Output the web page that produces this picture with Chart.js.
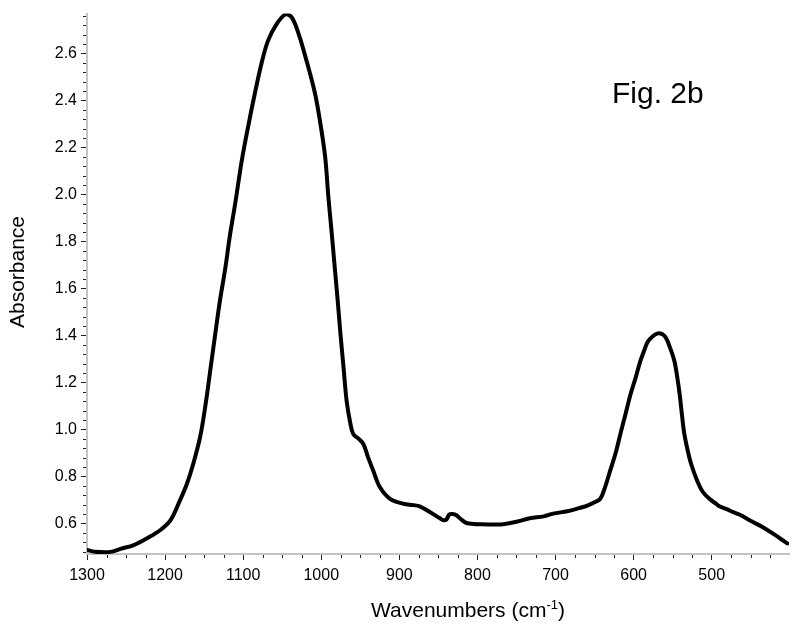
<!DOCTYPE html>
<html><head><meta charset="utf-8">
<script src="https://cdn.jsdelivr.net/npm/chart.js@4/dist/chart.umd.min.js"></script>
<style>html,body{margin:0;padding:0;background:#fff}#wrap{width:800px;height:627px;position:relative}</style>
</head><body><div id="wrap"><canvas id="c" width="800" height="627"></canvas></div>
<script>
const wavenumbers = [1300,1290,1270,1257,1240,1223,1206,1193,1181,1172,1164,1155,1148,1142,1136,1130,1123,1117,1110,1102,1093,1085,1076,1068,1057,1046,1038,1029,1019,1008,1002,995,991,987,983,979,975.5,971.5,967.5,963,959,952,946,940,933.5,925,912,895,882,874,861,848,844,840,836,832,827,820,814,805,797,780,767,750,733,715,703,685,670,660,650,642.5,636,630,623,617,610,604,597,591.5,586,581.8,575,569,563,558.3,553,547.7,544,541,538,535,530,526.3,519,511.5,503,494.4,490,480,473,464.6,447.6,435,422,412,403];
const absorbance = [0.487,0.48,0.479,0.492,0.508,0.537,0.572,0.614,0.698,0.769,0.853,0.97,1.11,1.255,1.4,1.543,1.684,1.825,1.966,2.14,2.3,2.431,2.565,2.656,2.726,2.766,2.755,2.684,2.571,2.43,2.32,2.16,1.994,1.85,1.70,1.55,1.41,1.265,1.121,1.03,0.98,0.96,0.938,0.881,0.825,0.755,0.705,0.684,0.678,0.673,0.649,0.622,0.614,0.616,0.638,0.64,0.635,0.615,0.602,0.598,0.597,0.596,0.597,0.607,0.622,0.63,0.642,0.652,0.665,0.675,0.69,0.706,0.76,0.825,0.9,0.98,1.07,1.149,1.225,1.29,1.34,1.374,1.398,1.409,1.405,1.388,1.345,1.29,1.22,1.149,1.06,0.98,0.9,0.853,0.785,0.735,0.705,0.684,0.673,0.66,0.649,0.638,0.607,0.585,0.558,0.535,0.515];
const xTickValues = [1300,1200,1100,1000,900,800,700,600,500];
const yTickValues = [0.6,0.8,1.0,1.2,1.4,1.6,1.8,2.0,2.2,2.4,2.6];
const xMinorStep = 25;
const yMinorStep = 0.04;
const xTitle = 'Wavenumbers (cm';
const xTitleSup = '-1';
const xTitleEnd = ')';
const yTitle = 'Absorbance';
const figLabel = 'Fig. 2b';

const FONT = '"Liberation Sans", Arial, sans-serif';

const decor = {
  id: 'decor',
  afterDraw(chart) {
    const ctx = chart.ctx;
    const xs = chart.scales.x, ys = chart.scales.y;
    const ca = chart.chartArea;
    ctx.save();
    ctx.strokeStyle = '#222';
    ctx.lineWidth = 1;
    ctx.beginPath();
    for (let v = 425; v <= 1300; v += xMinorStep) {
      if (v % 100 === 0) continue;
      const px = Math.round(xs.getPixelForValue(v)) + 0.5;
      ctx.moveTo(px, ca.bottom + 1);
      ctx.lineTo(px, ca.bottom + 4);
    }
    for (let i = 0; ; i++) {
      const v = Math.round((0.48 + i * yMinorStep) * 100) / 100;
      if (v > 2.77) break;
      if (Math.abs(v * 5 - Math.round(v * 5)) < 1e-6) continue;
      const py = Math.round(ys.getPixelForValue(v)) + 0.5;
      ctx.moveTo(ca.left - 4, py);
      ctx.lineTo(ca.left - 1, py);
    }
    ctx.stroke();
    ctx.fillStyle = '#000';
    ctx.font = '21px ' + FONT;
    const w1 = ctx.measureText(xTitle).width;
    ctx.font = '13px ' + FONT;
    const w2 = ctx.measureText(xTitleSup).width;
    ctx.font = '21px ' + FONT;
    const w3 = ctx.measureText(xTitleEnd).width;
    let x0 = 468 - (w1 + w2 + w3) / 2;
    const base = 617;
    ctx.textBaseline = 'alphabetic';
    ctx.textAlign = 'left';
    ctx.fillText(xTitle, x0, base);
    ctx.font = '13px ' + FONT;
    ctx.fillText(xTitleSup, x0 + w1, base - 8);
    ctx.font = '21px ' + FONT;
    ctx.fillText(xTitleEnd, x0 + w1 + w2, base);
    ctx.save();
    ctx.translate(24, 272);
    ctx.rotate(-Math.PI / 2);
    ctx.textAlign = 'center';
    ctx.fillText(yTitle, 0, 0);
    ctx.restore();
    ctx.font = '30px ' + FONT;
    ctx.textAlign = 'left';
    ctx.fillText(figLabel, 612, 103);
    ctx.restore();
  }
};

new Chart(document.getElementById('c'), {
  type: 'line',
  data: {
    datasets: [{
      data: wavenumbers.map((w, i) => ({ x: w, y: absorbance[i] })),
      borderColor: '#000',
      borderWidth: 4,
      pointRadius: 0,
      fill: false,
      tension: 0.35,
      borderJoinStyle: 'round',
      borderCapStyle: 'round'
    }]
  },
  options: {
    responsive: false,
    animation: false,
    devicePixelRatio: 1,
    layout: { padding: { top: 11, right: 11, left: 0, bottom: 0 } },
    plugins: { legend: { display: false }, tooltip: { enabled: false }, title: { display: false } },
    scales: {
      x: {
        type: 'linear',
        reverse: true,
        min: 401,
        max: 1300,
        afterBuildTicks: s => { s.ticks = xTickValues.map(v => ({ value: v })); },
        afterFit: s => { s.height = 73; },
        grid: { drawOnChartArea: false, tickLength: 6, tickColor: '#222', tickWidth: 1 },
        border: { color: '#c4c4c4', width: 2 },
        ticks: { color: '#000', font: { size: 16, family: FONT }, padding: 6, maxRotation: 0, autoSkip: false, callback: v => String(v) }
      },
      y: {
        type: 'linear',
        min: 0.47,
        max: 2.77,
        afterBuildTicks: s => { s.ticks = yTickValues.map(v => ({ value: v })); },
        afterFit: s => { s.width = 87; },
        grid: { drawOnChartArea: false, tickLength: 6, tickColor: '#222', tickWidth: 1 },
        border: { color: '#c4c4c4', width: 2 },
        ticks: { color: '#000', font: { size: 16, family: FONT }, padding: 4, callback: v => Number(v).toFixed(1) }
      }
    }
  },
  plugins: [decor]
});
</script>
</body></html>
